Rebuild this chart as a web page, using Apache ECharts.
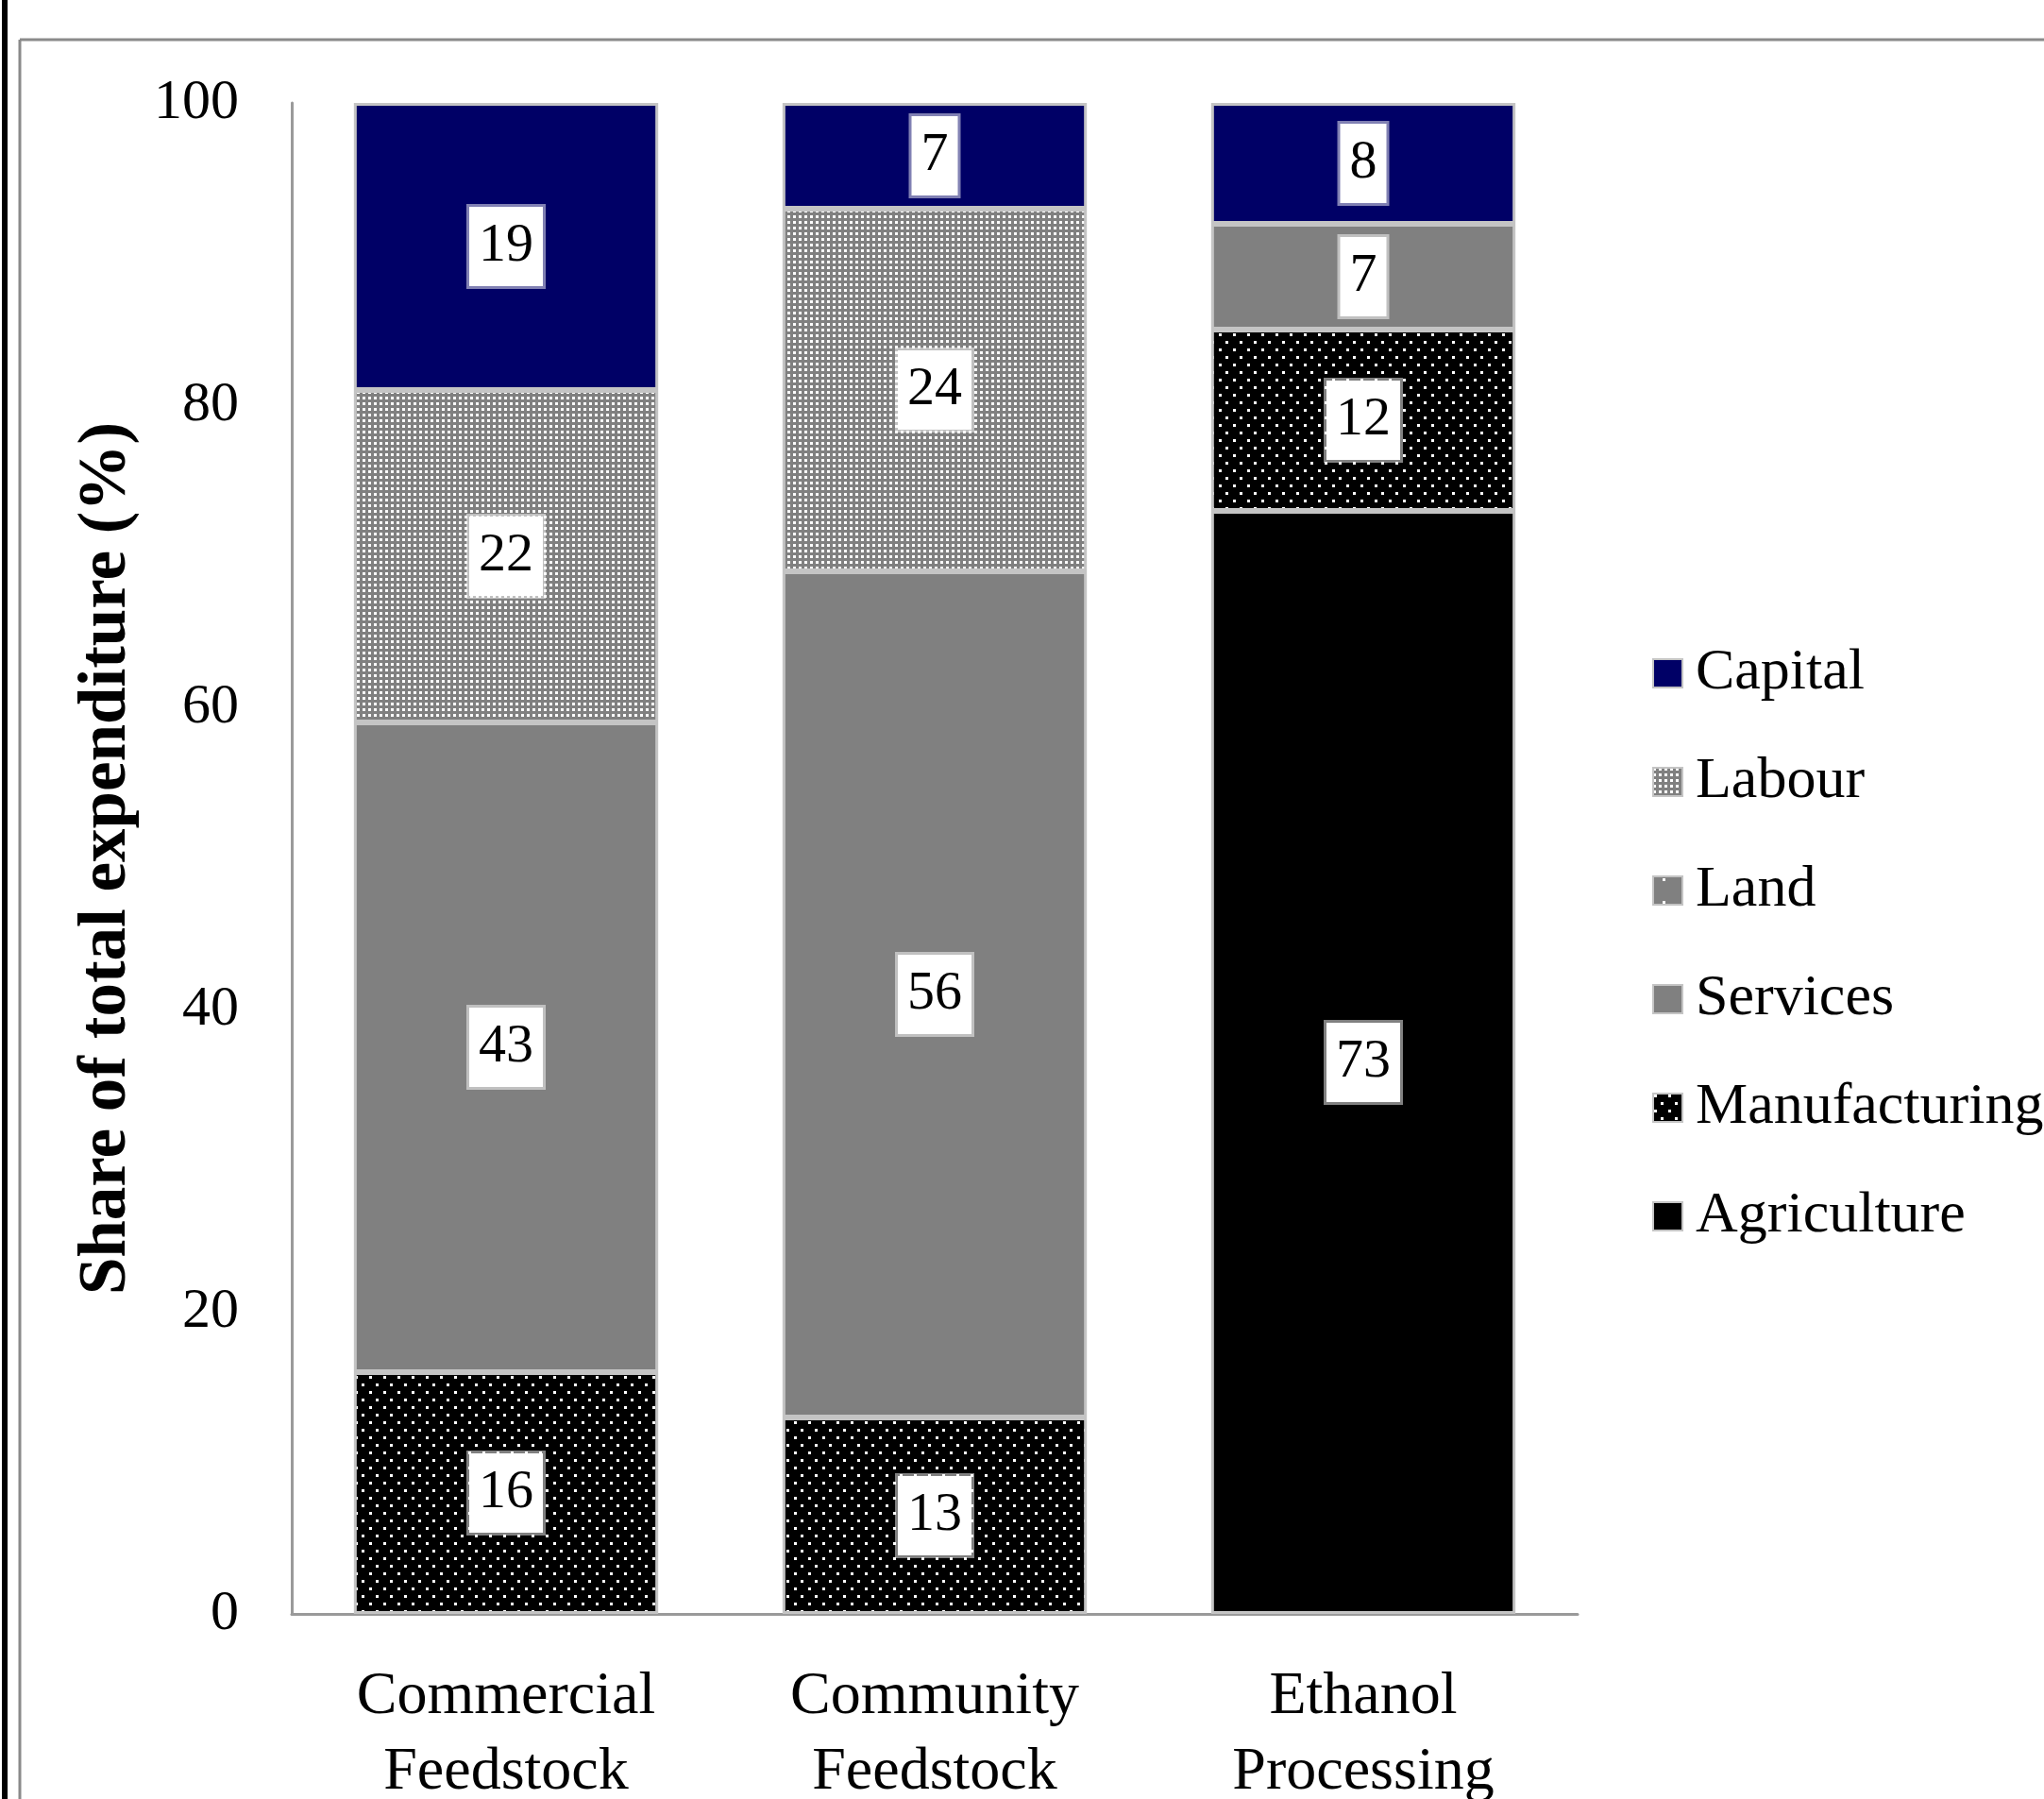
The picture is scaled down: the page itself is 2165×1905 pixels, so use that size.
<!DOCTYPE html>
<html>
<head>
<meta charset="utf-8">
<script src="https://cdn.jsdelivr.net/npm/echarts@6/dist/echarts.min.js"></script>
<style>
  html, body { margin: 0; padding: 0; background: #fff; }
  #chart { width: 2165px; height: 1905px; }
</style>
</head>
<body>
<div id="chart"></div>
<script>
(function(){
  const categories = ['Commercial\nFeedstock', 'Community\nFeedstock', 'Ethanol\nProcessing'];
  const yTicks = [0, 20, 40, 60, 80, 100];
  const legendOrder = ['Capital', 'Labour', 'Land', 'Services', 'Manufacturing', 'Agriculture'];

  // stacked bottom to top
  const agriculture   = [0, 0, 73];
  const manufacturing = [16, 13, 12];
  const services      = [43, 56, 7];
  const land          = [0, 0, 0];
  const labour        = [22, 24, 0];
  const capital       = [19, 7, 8];

  const serif = '"Liberation Serif", "DejaVu Serif", serif';

  function tile(w, h, bg, fg, dots){
    const c = document.createElement('canvas');
    c.width = w; c.height = h;
    const ctx = c.getContext('2d');
    ctx.fillStyle = bg;
    ctx.fillRect(0, 0, w, h);
    ctx.fillStyle = fg;
    dots.forEach(d => ctx.fillRect(d[0], d[1], d[2], d[3]));
    return { image: c, repeat: 'repeat' };
  }

  const labourFill = tile(6, 6, '#808080', '#ffffff', [[0, 0, 3, 3]]);
  const manufFill  = tile(15, 16, '#000000', '#ffffff', [[1, 1, 3, 3], [8, 9, 3, 3]]);
  const landFill   = tile(24, 24, '#808080', '#ffffff', [[10, 2, 3, 3]]);

  const label = {
    show: true,
    position: 'inside',
    color: '#000',
    fontFamily: serif,
    fontSize: 58,
    backgroundColor: '#fff',
    borderColor: 'rgba(255,255,255,0.5)',
    borderWidth: 3,
    padding: [14, 10, 12, 10],
    formatter: p => p.value
  };

  const clean = arr => arr.map(v => v ? v : '-');

  function bar(name, data, color){
    return {
      name,
      type: 'bar',
      stack: 'total',
      barCategoryGap: '29%',
      data: clean(data),
      itemStyle: { color, borderColor: '#c4c4c4', borderWidth: 3 },
      label,
      emphasis: { disabled: true }
    };
  }

  const chart = echarts.init(document.getElementById('chart'), null, { renderer: 'canvas' });
  chart.setOption({
    animation: false,
    backgroundColor: '#fff',
    grid: { left: 309, right: 494, top: 109, bottom: 196, outerBoundsMode: 'none', containLabel: false },
    legend: {
      orient: 'vertical',
      left: 1745,
      top: 677,
      data: legendOrder,
      icon: 'rect',
      itemWidth: 31,
      itemHeight: 30,
      itemGap: 53,
      textStyle: { fontFamily: serif, fontSize: 62, color: '#000', lineHeight: 62, padding: [0, 0, 0, 9] }
    },
    xAxis: {
      type: 'category',
      data: categories,
      axisLine: { lineStyle: { color: '#9a9a9a', width: 3 } },
      axisTick: { show: false },
      axisLabel: { fontFamily: serif, fontSize: 64, color: '#000', lineHeight: 80, margin: 48 }
    },
    yAxis: {
      type: 'value',
      min: 0,
      max: 100,
      interval: 20,
      name: 'Share of total expenditure (%)',
      nameLocation: 'middle',
      nameGap: 160,
      nameTextStyle: { fontFamily: serif, fontSize: 71, fontWeight: 'bold', color: '#000' },
      axisLine: { show: true, lineStyle: { color: '#9a9a9a', width: 3 } },
      axisTick: { show: false },
      splitLine: { show: false },
      axisLabel: {
        fontFamily: serif, fontSize: 60, color: '#000', margin: 56,
        formatter: v => yTicks.includes(v) ? String(v) : ''
      }
    },
    graphic: [
      { type: 'rect', shape: { x: 2, y: 0, width: 6, height: 1905 }, style: { fill: '#000' }, silent: true },
      { type: 'line', shape: { x1: 21, y1: 42, x2: 2165, y2: 42 }, style: { stroke: '#8a8a8a', lineWidth: 3 }, silent: true },
      { type: 'line', shape: { x1: 21, y1: 42, x2: 21, y2: 1905 }, style: { stroke: '#8a8a8a', lineWidth: 3 }, silent: true }
    ],
    series: [
      bar('Agriculture', agriculture, '#000000'),
      bar('Manufacturing', manufacturing, manufFill),
      bar('Services', services, '#808080'),
      bar('Land', land, landFill),
      bar('Labour', labour, labourFill),
      bar('Capital', capital, '#000066')
    ]
  });
})();
</script>
</body>
</html>
